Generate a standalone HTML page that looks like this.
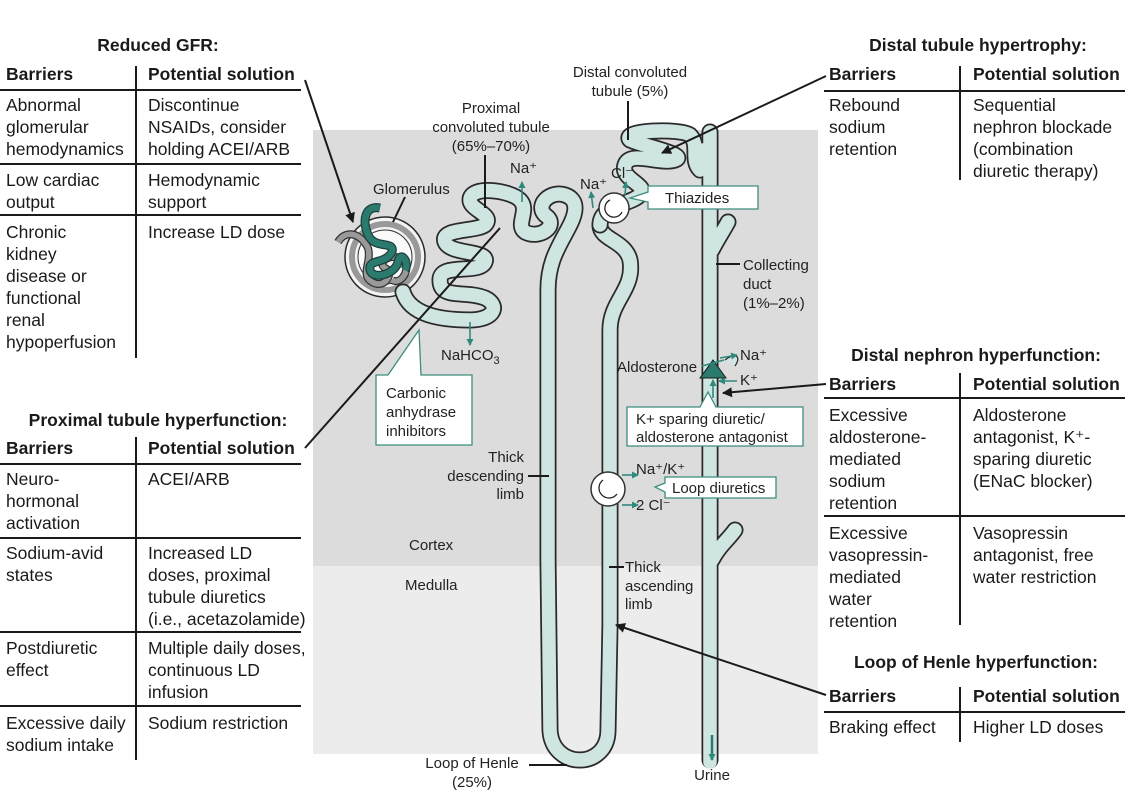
<!DOCTYPE html>
<html><head><meta charset="utf-8"><style>
html,body{margin:0;padding:0;background:#fff;}
svg{display:block;font-family:"Liberation Sans",Arial,sans-serif;}
.t{font-size:17.5px;fill:#1a1a1a;}
.b{font-size:17.5px;font-weight:bold;fill:#1a1a1a;}
.s{font-size:15px;fill:#222;}
.tube-o{fill:none;stroke:#2a2a2a;stroke-width:17;stroke-linecap:round;stroke-linejoin:round;}
.tube-i{fill:none;stroke:#cfe5e1;stroke-width:13.5;stroke-linecap:round;stroke-linejoin:round;}
.tl{stroke:#1a1a1a;stroke-width:2;}
.g{stroke:#2d8a7c;stroke-width:1.6;fill:none;}
</style></head><body>
<svg width="1125" height="810" viewBox="0 0 1125 810">
<defs>
<marker id="ah" markerWidth="10" markerHeight="10" refX="9" refY="5" orient="auto" markerUnits="userSpaceOnUse"><path d="M0,0 L10,5 L0,10 z" fill="#1a1a1a"/></marker>
<marker id="gh" markerWidth="7" markerHeight="7" refX="6" refY="3.5" orient="auto" markerUnits="userSpaceOnUse"><path d="M0,0 L7,3.5 L0,7 z" fill="#2d8a7c"/></marker>
</defs>
<rect x="313" y="130" width="505" height="436" fill="#dcdcdd"/>
<rect x="313" y="566" width="505" height="188" fill="#ececec"/>

<!-- glomerulus -->
<circle cx="385" cy="257" r="40" fill="#f4f4f4" stroke="#2a2a2a" stroke-width="1.5"/>
<circle cx="385" cy="257" r="33" fill="none" stroke="#999" stroke-width="6"/>
<circle cx="385" cy="257" r="27" fill="#fafafa" stroke="#333" stroke-width="1"/>
<path d="M338,242 C345,230 360,232 368,248 C372,262 360,275 372,282 C385,290 395,272 385,268 C375,262 395,250 405,262 C410,272 400,285 392,280" fill="none" stroke="#333" stroke-width="8"/>
<path d="M338,242 C345,230 360,232 368,248 C372,262 360,275 372,282 C385,290 395,272 385,268 C375,262 395,250 405,262 C410,272 400,285 392,280" fill="none" stroke="#999" stroke-width="5.5"/>
<path d="M380,208 C365,205 362,220 368,235 C375,250 395,240 392,252 C385,265 368,258 370,270 C372,280 395,275 398,262 C400,250 410,262 405,270" fill="none" stroke="#1c3f3a" stroke-width="9"/>
<path d="M380,208 C365,205 362,220 368,235 C375,250 395,240 392,252 C385,265 368,258 370,270 C372,280 395,275 398,262 C400,250 410,262 405,270" fill="none" stroke="#2b7a6e" stroke-width="6.5"/>
<text class="s" x="373" y="194">Glomerulus</text>
<line x1="405" y1="197" x2="393" y2="222" class="tl" stroke-width="1.5"/>

<!-- nephron tubes -->
<g>
<path d="M403,292 C410,315 440,320 470,320 C495,320 500,305 485,298 C465,290 440,300 440,280 C440,262 480,275 485,262 C490,250 450,255 445,242 C440,228 475,232 485,225 C495,215 470,210 470,200 C470,185 510,190 520,200 C530,210 515,225 525,232 C540,240 560,225 545,215 C535,205 550,190 565,195 C580,200 575,215 570,225 C560,245 548,260 548,290 L548,560 L550,730 C552,770 608,770 608,730 L610,625 L610,330 C610,300 635,290 630,260 C625,240 600,240 600,225" class="tube-o"/>
<path d="M403,292 C410,315 440,320 470,320 C495,320 500,305 485,298 C465,290 440,300 440,280 C440,262 480,275 485,262 C490,250 450,255 445,242 C440,228 475,232 485,225 C495,215 470,210 470,200 C470,185 510,190 520,200 C530,210 515,225 525,232 C540,240 560,225 545,215 C535,205 550,190 565,195 C580,200 575,215 570,225 C560,245 548,260 548,290 L548,560 L550,730 C552,770 608,770 608,730 L610,625 L610,330 C610,300 635,290 630,260 C625,240 600,240 600,225" class="tube-i"/>
<path d="M600,225 C600,205 630,205 640,195 C650,185 620,180 625,165 C630,150 660,165 675,160 C690,155 640,145 630,140 C620,130 680,128 690,135 C700,145 690,160 700,170" class="tube-o"/>
<path d="M600,225 C600,205 630,205 640,195 C650,185 620,180 625,165 C630,150 660,165 675,160 C690,155 640,145 630,140 C620,130 680,128 690,135 C700,145 690,160 700,170" class="tube-i"/>
<path d="M710,132 L710,760 M712,250 C720,235 725,228 728,222 M712,560 C720,545 728,540 735,530" class="tube-o" stroke-width="24" stroke-linecap="butt"/>
<path d="M710,132 L710,762 M712,250 C720,235 725,228 728,222 M712,560 C720,545 728,540 735,530" class="tube-i" stroke-width="20" stroke-linecap="butt"/>
<path d="M700,170 C705,168 705,160 703,150" class="tube-i"/>
</g>
<polygon points="700,378 713,360 726,378" fill="#2b7a6e" stroke="#1a1a1a" stroke-width="1"/>
<path d="M713,380 L713,398" class="g" marker-end="url(#gh)" transform="rotate(180 713 389)"/>
<line x1="702" y1="366" x2="724" y2="360" class="g"/><path d="M725,360 C735,352 742,356 735,366" fill="#cfe5e1" stroke="#222" stroke-width="1.2"/>
<line x1="720" y1="358" x2="737" y2="355" class="g" marker-end="url(#gh)"/>
<line x1="737" y1="381" x2="719" y2="381" class="g" marker-end="url(#gh)"/>
<line x1="712" y1="735" x2="712" y2="760" stroke="#2b7a6e" stroke-width="2.5" marker-end="url(#gh)"/>

<!-- circles -->
<circle cx="614" cy="208" r="15" fill="#fff" stroke="#333" stroke-width="1.5"/>
<path d="M610,200 A9,9 0 1 0 622,212" fill="none" stroke="#222" stroke-width="1.3"/>
<circle cx="608" cy="489" r="17" fill="#fff" stroke="#333" stroke-width="1.5"/>
<path d="M603,480 A10,10 0 1 0 617,494" fill="none" stroke="#222" stroke-width="1.3"/>

<!-- green arrows -->
<line x1="522" y1="202" x2="522" y2="182" class="g" marker-end="url(#gh)"/>
<line x1="593" y1="208" x2="591" y2="192" class="g" marker-end="url(#gh)"/>
<line x1="625" y1="195" x2="626" y2="182" class="g" marker-end="url(#gh)"/>
<line x1="470" y1="322" x2="470" y2="345" class="g" marker-end="url(#gh)"/>
<line x1="622" y1="475" x2="638" y2="475" class="g" marker-end="url(#gh)"/>
<line x1="622" y1="505" x2="638" y2="505" class="g" marker-end="url(#gh)"/>

<!-- nephron labels -->
<text class="s" x="510" y="173">Na⁺</text>
<text class="s" x="580" y="189">Na⁺</text>
<text class="s" x="611" y="178">Cl⁻</text>
<text class="s" x="441" y="360">NaHCO<tspan font-size="11" dy="4">3</tspan></text>
<text class="s" x="617" y="372">Aldosterone</text>
<text class="s" x="740" y="360">Na⁺</text>
<text class="s" x="740" y="385">K⁺</text>
<text class="s" x="636" y="474">Na⁺/K⁺</text>
<text class="s" x="636" y="510">2 Cl⁻</text>
<text class="s" text-anchor="middle" x="630" y="77">Distal convoluted</text>
<text class="s" text-anchor="middle" x="630" y="96">tubule (5%)</text>
<line x1="628" y1="101" x2="628" y2="140" class="tl" stroke-width="1.5"/>
<text class="s" text-anchor="middle" x="491" y="113">Proximal</text>
<text class="s" text-anchor="middle" x="491" y="132">convoluted tubule</text>
<text class="s" text-anchor="middle" x="491" y="151">(65%–70%)</text>
<line x1="485" y1="155" x2="485" y2="208" class="tl" stroke-width="1.5"/>
<text class="s" x="743" y="270">Collecting</text>
<text class="s" x="743" y="289">duct</text>
<text class="s" x="743" y="308">(1%–2%)</text>
<line x1="716" y1="264" x2="740" y2="264" class="tl" stroke-width="1.2"/>
<text class="s" text-anchor="end" x="524" y="462">Thick</text>
<text class="s" text-anchor="end" x="524" y="481">descending</text>
<text class="s" text-anchor="end" x="524" y="499">limb</text>
<line x1="528" y1="476" x2="549" y2="476" class="tl" stroke-width="1.5"/>
<text class="s" x="625" y="572">Thick</text>
<text class="s" x="625" y="591">ascending</text>
<text class="s" x="625" y="609">limb</text>
<line x1="609" y1="567" x2="624" y2="567" class="tl" stroke-width="1.5"/>
<text class="s" x="409" y="550">Cortex</text>
<text class="s" x="405" y="590">Medulla</text>
<text class="s" text-anchor="middle" x="472" y="768">Loop of Henle</text>
<text class="s" text-anchor="middle" x="472" y="787">(25%)</text>
<line x1="529" y1="765" x2="567" y2="765" class="tl" stroke-width="1.5"/>
<text class="s" text-anchor="middle" x="712" y="780">Urine</text>

<!-- callouts -->
<path d="M376,375 L388,375 L419,330 L421,375 L472,375 L472,445 L376,445 Z" fill="#fff" stroke="#3d8d80" stroke-width="1.3"/>
<text class="s" x="386" y="398">Carbonic</text><text class="s" x="386" y="417">anhydrase</text><text class="s" x="386" y="436">inhibitors</text>
<path d="M648,186 L758,186 L758,209 L648,209 L648,202 L630,198 L648,192 Z" fill="#fff" stroke="#3d8d80" stroke-width="1.3"/>
<text class="s" x="665" y="203">Thiazides</text>
<path d="M627,407 L700,407 L708,392 L716,407 L803,407 L803,446 L627,446 Z" fill="#fff" stroke="#3d8d80" stroke-width="1.3"/>
<text class="s" x="636" y="424">K+ sparing diuretic/</text><text class="s" x="636" y="442">aldosterone antagonist</text>
<path d="M665,477 L776,477 L776,498 L665,498 L665,492 L655,487 L665,483 Z" fill="#fff" stroke="#3d8d80" stroke-width="1.3"/>
<text class="s" x="672" y="493">Loop diuretics</text>

<!-- connector arrows -->
<line x1="305" y1="80" x2="353" y2="222" stroke="#1a1a1a" stroke-width="2" marker-end="url(#ah)"/>
<line x1="305" y1="448" x2="500" y2="228" stroke="#1a1a1a" stroke-width="2"/>
<line x1="826" y1="76" x2="662" y2="153" stroke="#1a1a1a" stroke-width="2" marker-end="url(#ah)"/>
<line x1="826" y1="384" x2="723" y2="393" stroke="#1a1a1a" stroke-width="2" marker-end="url(#ah)"/>
<line x1="826" y1="695" x2="616" y2="625" stroke="#1a1a1a" stroke-width="2" marker-end="url(#ah)"/>

<!-- LEFT TABLE 1 -->
<text class="b" text-anchor="middle" x="158" y="51">Reduced GFR:</text>
<text class="b" x="6" y="80">Barriers</text><text class="b" x="148" y="80">Potential solution</text>
<line x1="0" y1="90" x2="301" y2="90" class="tl"/>
<line x1="136" y1="66" x2="136" y2="358" class="tl"/>
<text class="t" x="6" y="111">Abnormal</text><text class="t" x="6" y="133">glomerular</text><text class="t" x="6" y="155">hemodynamics</text>
<text class="t" x="148" y="111">Discontinue</text><text class="t" x="148" y="133">NSAIDs, consider</text><text class="t" x="148" y="155">holding ACEI/ARB</text>
<line x1="0" y1="164" x2="301" y2="164" class="tl"/>
<text class="t" x="6" y="186">Low cardiac</text><text class="t" x="6" y="208">output</text>
<text class="t" x="148" y="186">Hemodynamic</text><text class="t" x="148" y="208">support</text>
<line x1="0" y1="215" x2="301" y2="215" class="tl"/>
<text class="t" x="6" y="238">Chronic</text><text class="t" x="6" y="260">kidney</text><text class="t" x="6" y="282">disease or</text><text class="t" x="6" y="304">functional</text><text class="t" x="6" y="326">renal</text><text class="t" x="6" y="348">hypoperfusion</text>
<text class="t" x="148" y="238">Increase LD dose</text>

<!-- LEFT TABLE 2 -->
<text class="b" text-anchor="middle" x="158" y="426">Proximal tubule hyperfunction:</text>
<text class="b" x="6" y="454">Barriers</text><text class="b" x="148" y="454">Potential solution</text>
<line x1="0" y1="464" x2="301" y2="464" class="tl"/>
<line x1="136" y1="437" x2="136" y2="760" class="tl"/>
<text class="t" x="6" y="485">Neuro-</text><text class="t" x="6" y="507">hormonal</text><text class="t" x="6" y="529">activation</text>
<text class="t" x="148" y="485">ACEI/ARB</text>
<line x1="0" y1="538" x2="301" y2="538" class="tl"/>
<text class="t" x="6" y="559">Sodium-avid</text><text class="t" x="6" y="581">states</text>
<text class="t" x="148" y="559">Increased LD</text><text class="t" x="148" y="581">doses, proximal</text><text class="t" x="148" y="603">tubule diuretics</text><text class="t" x="148" y="625">(i.e., acetazolamide)</text>
<line x1="0" y1="632" x2="301" y2="632" class="tl"/>
<text class="t" x="6" y="654">Postdiuretic</text><text class="t" x="6" y="676">effect</text>
<text class="t" x="148" y="654">Multiple daily doses,</text><text class="t" x="148" y="676">continuous LD</text><text class="t" x="148" y="698">infusion</text>
<line x1="0" y1="706" x2="301" y2="706" class="tl"/>
<text class="t" x="6" y="729">Excessive daily</text><text class="t" x="6" y="751">sodium intake</text>
<text class="t" x="148" y="729">Sodium restriction</text>

<!-- RIGHT TABLE 1 -->
<text class="b" text-anchor="middle" x="978" y="51">Distal tubule hypertrophy:</text>
<text class="b" x="829" y="80">Barriers</text><text class="b" x="973" y="80">Potential solution</text>
<line x1="824" y1="91" x2="1125" y2="91" class="tl"/>
<line x1="960" y1="66" x2="960" y2="180" class="tl"/>
<text class="t" x="829" y="111">Rebound</text><text class="t" x="829" y="133">sodium</text><text class="t" x="829" y="155">retention</text>
<text class="t" x="973" y="111">Sequential</text><text class="t" x="973" y="133">nephron blockade</text><text class="t" x="973" y="155">(combination</text><text class="t" x="973" y="177">diuretic therapy)</text>

<!-- RIGHT TABLE 2 -->
<text class="b" text-anchor="middle" x="976" y="361">Distal nephron hyperfunction:</text>
<text class="b" x="829" y="390">Barriers</text><text class="b" x="973" y="390">Potential solution</text>
<line x1="824" y1="398" x2="1125" y2="398" class="tl"/>
<line x1="960" y1="373" x2="960" y2="625" class="tl"/>
<text class="t" x="829" y="421">Excessive</text><text class="t" x="829" y="443">aldosterone-</text><text class="t" x="829" y="465">mediated</text><text class="t" x="829" y="487">sodium</text><text class="t" x="829" y="509">retention</text>
<text class="t" x="973" y="421">Aldosterone</text><text class="t" x="973" y="443">antagonist, K⁺-</text><text class="t" x="973" y="465">sparing diuretic</text><text class="t" x="973" y="487">(ENaC blocker)</text>
<line x1="824" y1="516" x2="1125" y2="516" class="tl"/>
<text class="t" x="829" y="539">Excessive</text><text class="t" x="829" y="561">vasopressin-</text><text class="t" x="829" y="583">mediated</text><text class="t" x="829" y="605">water</text><text class="t" x="829" y="627">retention</text>
<text class="t" x="973" y="539">Vasopressin</text><text class="t" x="973" y="561">antagonist, free</text><text class="t" x="973" y="583">water restriction</text>

<!-- RIGHT TABLE 3 -->
<text class="b" text-anchor="middle" x="976" y="668">Loop of Henle hyperfunction:</text>
<text class="b" x="829" y="702">Barriers</text><text class="b" x="973" y="702">Potential solution</text>
<line x1="824" y1="712" x2="1125" y2="712" class="tl"/>
<line x1="960" y1="687" x2="960" y2="742" class="tl"/>
<text class="t" x="829" y="733">Braking effect</text><text class="t" x="973" y="733">Higher LD doses</text>
</svg>
</body></html>
